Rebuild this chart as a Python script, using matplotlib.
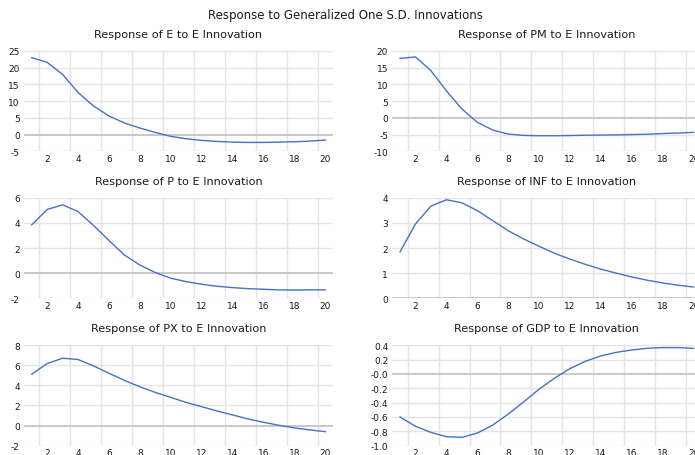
import matplotlib
matplotlib.use("Agg")
import matplotlib.pyplot as plt
import numpy as np

periods = np.arange(1, 21)

resp_e = [23.0, 21.6, 18.0, 12.6, 8.6, 5.6, 3.5, 2.0, 0.7, -0.5,
          -1.2, -1.7, -2.0, -2.2, -2.3, -2.3, -2.2, -2.1, -1.9, -1.6]
resp_pm = [17.8, 18.2, 14.1, 8.1, 2.7, -1.3, -3.6, -4.8, -5.2, -5.3,
           -5.3, -5.25, -5.15, -5.1, -5.05, -4.95, -4.85, -4.65, -4.5, -4.3]
resp_p = [3.84, 5.07, 5.44, 4.9, 3.8, 2.6, 1.45, 0.65, 0.05, -0.4,
          -0.67, -0.88, -1.04, -1.15, -1.23, -1.28, -1.33, -1.34, -1.33, -1.32]
resp_inf = [1.85, 2.96, 3.67, 3.92, 3.8, 3.49, 3.09, 2.69, 2.36, 2.07,
            1.79, 1.56, 1.35, 1.16, 1.0, 0.85, 0.72, 0.61, 0.52, 0.45]
resp_px = [5.1, 6.17, 6.7, 6.57, 5.94, 5.2, 4.5, 3.86, 3.3, 2.8,
           2.3, 1.88, 1.45, 1.06, 0.66, 0.33, 0.03, -0.23, -0.43, -0.6]
resp_gdp = [-0.60, -0.73, -0.815, -0.875, -0.884, -0.824, -0.713, -0.56, -0.39, -0.213,
            -0.06, 0.074, 0.176, 0.25, 0.30, 0.333, 0.356, 0.366, 0.366, 0.356]

panels = [
    ("Response of E to E Innovation", resp_e, (-5, 25), np.arange(-5, 26, 5), "%d"),
    ("Response of PM to E Innovation", resp_pm, (-10, 20), np.arange(-10, 21, 5), "%d"),
    ("Response of P to E Innovation", resp_p, (-2, 6), np.arange(-2, 7, 2), "%d"),
    ("Response of INF to E Innovation", resp_inf, (0, 4), np.arange(0, 5, 1), "%d"),
    ("Response of PX to E Innovation", resp_px, (-2, 8), np.arange(-2, 9, 2), "%d"),
    ("Response of GDP to E Innovation", resp_gdp, (-1.0, 0.4), np.arange(-1.0, 0.41, 0.2), "%.1f"),
]

fig = plt.figure(figsize=(6.95, 4.56), dpi=100)
fig.patch.set_facecolor("white")

lefts = [0.0345, 0.5645]
bottoms = [0.6656, 0.3436, 0.0204]
w, h = 0.4446, 0.2205

fig.text(0.4964, 0.967, "Response to Generalized One S.D. Innovations",
         ha="center", va="center", fontsize=8.5, color="#1a1a1a")

for i, (title, vals, ylim, yt, fmt) in enumerate(panels):
    ax = fig.add_axes([lefts[i % 2], bottoms[i // 2], w, h])
    ax.set_xlim(0.5, 20.5)
    ax.set_ylim(*ylim)
    # gridlines sit between the periods, like a category axis
    for gx in np.arange(1.5, 20.0, 2):
        ax.axvline(gx, color="#e4e4e4", lw=1.0, zorder=0)
    for gy in yt:
        if abs(gy) < 1e-9:
            ax.axhline(gy, color="#c8c8c8", lw=1.4, zorder=1)
        else:
            ax.axhline(gy, color="#e4e4e4", lw=1.0, zorder=0)
    ax.plot(periods, vals, color="#4472C4", lw=1.0, zorder=3)
    ax.set_xticks(np.arange(2, 21, 2))
    ax.set_yticks(yt)
    ax.set_yticklabels([fmt % v for v in yt])
    ax.tick_params(length=0, labelsize=6.5, colors="#1a1a1a", pad=3)
    ax.tick_params(axis="x", pad=2)
    for s in ax.spines.values():
        s.set_visible(False)
    ax.annotate(title, xy=(0.5, 1.0), xycoords="axes fraction",
                xytext=(0, 12), textcoords="offset points",
                ha="center", va="center", fontsize=8.1, color="#1a1a1a")

fig.savefig("out.png", dpi=100)
